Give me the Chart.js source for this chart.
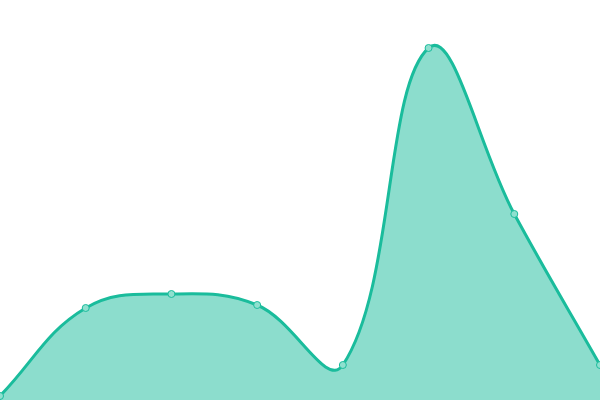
<!DOCTYPE html>
<html>
<head>
<meta charset="utf-8">
<script src="https://cdn.jsdelivr.net/npm/chart.js@4"></script>
<style>
    html, body { margin: 0; padding: 0; background: #fff; }
    #wrap { width: 600px; height: 400px; }
</style>
</head>
<body>
<div id="wrap"><canvas id="graph"></canvas></div>
<script>
const labels = ['1', '2', '3', '4', '5', '6', '7', '8'];
const values = [1, 23, 26.5, 23.75, 8.75, 88, 46.5, 8.75];

const context = document.getElementById('graph');
new Chart(context, {
    type: 'line',
    data: {
        labels: labels,
        datasets: [
            {
                data: values,
                fill: true,
                borderColor: '#1abc9c',
                backgroundColor: 'rgba(26, 188, 156, 0.5)',
                borderWidth: 3,
                pointRadius: 3.5,
                pointBorderWidth: 1,
                pointBackgroundColor: '#8fe0cf',
                pointBorderColor: '#1abc9c',
                tension: 0.4
            }
        ]
    },
    options: {
        responsive: true,
        maintainAspectRatio: false,
        animation: false,
        // let the plot run right to the canvas edges
        layout: { padding: 0, autoPadding: false },
        plugins: {
            legend: { display: false },
            tooltip: { enabled: false }
        },
        scales: {
            x: { display: false, offset: false },
            y: { display: false, min: 0, max: 100 }
        }
    }
});
</script>
</body>
</html>
